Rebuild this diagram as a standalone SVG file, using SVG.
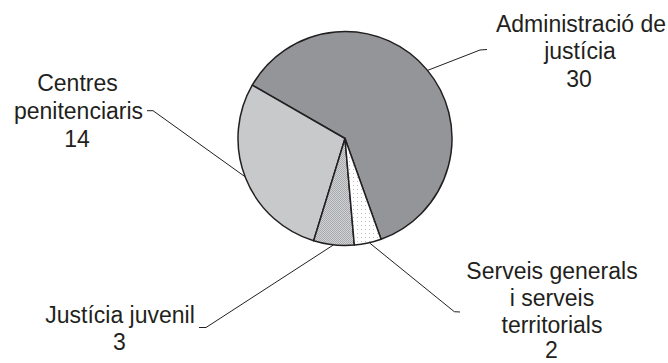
<svg xmlns="http://www.w3.org/2000/svg" width="668" height="363" viewBox="0 0 668 363">
<defs>
<style>
.slice{stroke:#231f20;stroke-width:1.5;stroke-linejoin:round}
.lbl{font-family:"Liberation Sans",Arial,sans-serif;font-size:23px;fill:#231f20;text-anchor:middle}
.lead{fill:none;stroke:#231f20;stroke-width:1}
</style>
<pattern id="checker" width="2" height="2" patternUnits="userSpaceOnUse">
<rect width="2" height="2" fill="#d1d3d4"/>
<rect width="1" height="1" fill="#a7a9ac"/>
<rect x="1" y="1" width="1" height="1" fill="#a7a9ac"/>
</pattern>
<pattern id="dots" width="4" height="4" patternUnits="userSpaceOnUse">
<rect width="4" height="4" fill="#ffffff"/>
<rect x="1" y="1" width="1" height="1" fill="#bcbec0"/>
</pattern>
</defs>
<g id="connectors">
<polyline class="lead" points="427.6,70.4 480,50 487,49.5"/>
<polyline class="lead" points="147,110.7 153,110.7 245,176.7"/>
<polyline class="lead" points="199,327.5 206,327.5 333.3,245"/>
<polyline class="lead" points="370,243.3 454.3,311.7 460,312"/>
</g>
<g id="pie">
<path id="slice-admin" class="slice" fill="#939598" d="M345,138.5 L252.23,85.18 A107,107 0 1 1 381.07,239.24 Z"/>
<path id="slice-centres" class="slice" fill="#c8c9cb" d="M345,138.5 L313.66,240.8 A107,107 0 0 1 252.23,85.18 Z"/>
<path id="slice-juvenil" class="slice" fill="url(#checker)" d="M345,138.5 L354.34,245.09 A107,107 0 0 1 313.66,240.8 Z"/>
<path id="slice-serveis" class="slice" fill="url(#dots)" d="M345,138.5 L381.07,239.24 A107,107 0 0 1 354.34,245.09 Z"/>
</g>
<g id="label-admin">
<text class="lbl" x="581" y="31.5">Administració de</text>
<text class="lbl" x="580" y="59.2">justícia</text>
<text class="lbl" x="579" y="86.9">30</text>
</g>
<g id="label-centres">
<text class="lbl" x="77.5" y="90.8">Centres</text>
<text class="lbl" x="78.5" y="118.8">penitenciaris</text>
<text class="lbl" x="77" y="146.8">14</text>
</g>
<g id="label-juvenil">
<text class="lbl" x="120" y="322.7">Justícia juvenil</text>
<text class="lbl" x="119.5" y="350.3">3</text>
</g>
<g id="label-serveis">
<text class="lbl" x="552" y="278.5">Serveis generals</text>
<text class="lbl" x="552" y="305.5">i serveis</text>
<text class="lbl" x="552" y="332.5">territorials</text>
<text class="lbl" x="551.5" y="357.5">2</text>
</g>
</svg>
